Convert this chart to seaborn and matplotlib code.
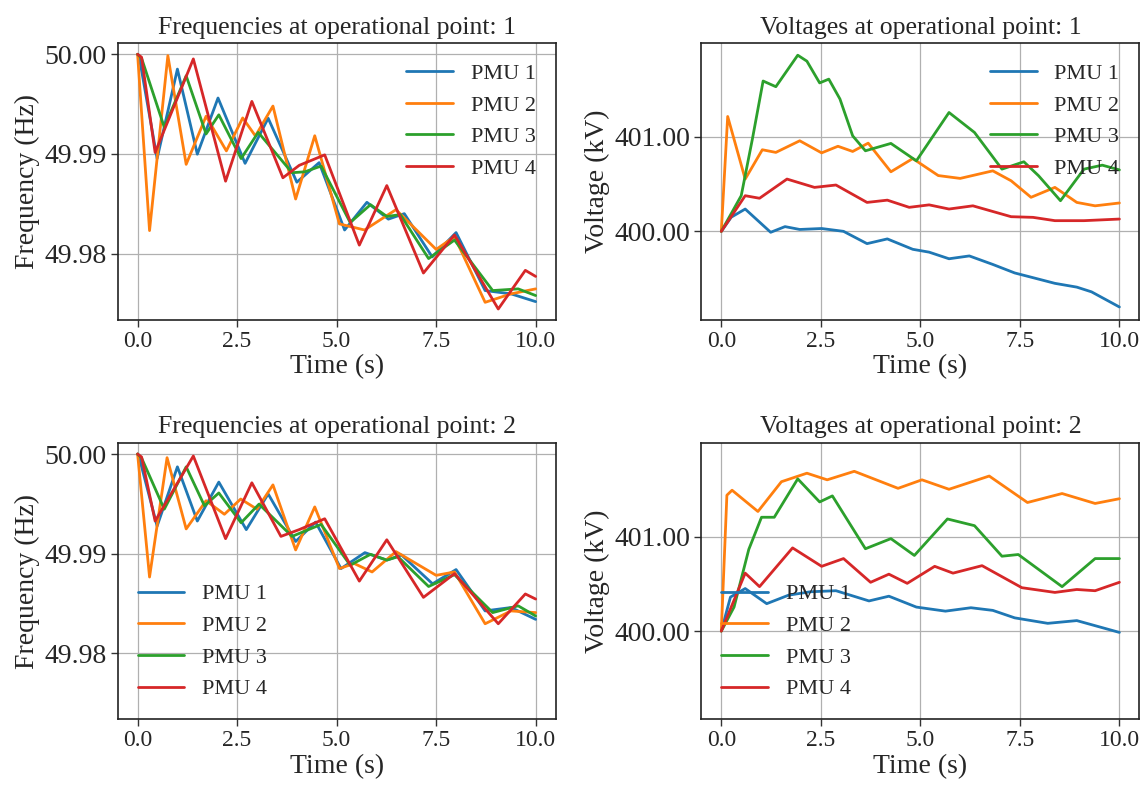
import matplotlib
matplotlib.use("Agg")
import matplotlib.pyplot as plt
import seaborn as sns
import pandas as pd
from matplotlib.ticker import MultipleLocator, FormatStrFormatter

# ---------------- data (time s, value) ----------------
LABELS = ["PMU 1", "PMU 2", "PMU 3", "PMU 4"]
COLORS = ["#1f77b4", "#ff7f0e", "#2ca02c", "#d62728"]

# Frequencies, operational point 1 (Hz)
F1_PMU1 = [(0, 50.0), (0.05, 49.9995), (0.49, 49.98953), (1.0, 49.99851), (1.5, 49.98997), (2.02, 49.99561),
           (2.7, 49.98905), (3.28, 49.99358), (4.0, 49.98716), (4.56, 49.98912), (5.2, 49.98236),
           (5.76, 49.98514), (6.3, 49.98345), (6.7, 49.9840), (7.4, 49.97966), (8.0, 49.9821),
           (8.73, 49.97628), (9.38, 49.97595), (10.0, 49.97517)]
F1_PMU2 = [(0, 50.0), (0.3, 49.9823), (0.76, 49.99986), (1.22, 49.98895), (1.72, 49.99378), (2.23, 49.9903),
           (2.64, 49.99361), (2.96, 49.9918), (3.4, 49.9948), (3.97, 49.98547), (4.45, 49.99182),
           (5.07, 49.98297), (5.7, 49.98236), (6.49, 49.9844), (7.5, 49.98041), (7.96, 49.98169),
           (8.73, 49.9751), (9.38, 49.97595), (10.0, 49.97645)]
F1_PMU3 = [(0, 50.0), (0.1, 49.9996), (0.67, 49.99267), (1.22, 49.99784), (1.72, 49.9920), (2.04, 49.99392),
           (2.6, 49.98953), (3.03, 49.99216), (3.88, 49.98811), (4.2, 49.98820), (4.61, 49.98878),
           (5.34, 49.98311), (5.85, 49.98490), (6.26, 49.98372), (6.6, 49.9839), (7.31, 49.97949),
           (7.96, 49.98135), (8.92, 49.97628), (9.56, 49.97645), (10.0, 49.97578)]
F1_PMU4 = [(0, 50.0), (0.1, 49.9997), (0.44, 49.99014), (1.4, 49.99953), (2.21, 49.98726), (2.87, 49.99527),
           (3.65, 49.9876), (4.06, 49.98885), (4.7, 49.9899), (5.57, 49.98084), (6.26, 49.98682),
           (7.18, 49.97804), (7.96, 49.98186), (9.06, 49.97443), (9.74, 49.97831), (10.0, 49.9777)]

# Voltages, operational point 1 (kV)
V1_PMU1 = [(0, 400.0), (0.25, 400.15), (0.6, 400.236), (1.24, 399.99), (1.6, 400.05), (1.97, 400.02),
           (2.52, 400.03), (3.07, 400.0), (3.66, 399.87), (4.17, 399.92), (4.81, 399.81), (5.22, 399.78),
           (5.72, 399.71), (6.23, 399.74), (6.82, 399.65), (7.37, 399.56), (7.83, 399.51), (8.38, 399.45),
           (8.93, 399.41), (9.3, 399.36), (10.0, 399.20)]
V1_PMU2 = [(0, 400.0), (0.16, 401.215), (0.6, 400.553), (1.03, 400.863), (1.37, 400.835), (1.97, 400.958),
           (2.52, 400.83), (2.93, 400.90), (3.3, 400.845), (3.69, 400.933), (4.26, 400.63), (4.81, 400.77),
           (5.45, 400.59), (6.0, 400.56), (6.82, 400.64), (7.28, 400.535), (7.78, 400.36), (8.38, 400.465),
           (8.93, 400.306), (9.39, 400.27), (10.0, 400.30)]
V1_PMU3 = [(0, 400.0), (0.5, 400.377), (0.78, 400.975), (1.05, 401.59), (1.37, 401.53), (1.92, 401.863),
           (2.15, 401.80), (2.47, 401.57), (2.7, 401.61), (2.98, 401.40), (3.3, 401.01), (3.62, 400.852),
           (4.26, 400.93), (4.9, 400.746), (5.72, 401.257), (6.36, 401.046), (7.05, 400.658), (7.6, 400.736),
           (7.97, 400.588), (8.52, 400.324), (9.11, 400.658), (9.57, 400.70), (10.0, 400.65)]
V1_PMU4 = [(0, 400.0), (0.6, 400.377), (0.96, 400.35), (1.65, 400.553), (2.34, 400.465), (2.88, 400.49),
           (3.66, 400.306), (4.17, 400.33), (4.72, 400.254), (5.22, 400.28), (5.72, 400.236), (6.32, 400.27),
           (7.28, 400.155), (7.83, 400.148), (8.38, 400.113), (9.11, 400.113), (10.0, 400.13)]

# Frequencies, operational point 2 (Hz)
F2_PMU1 = [(0, 50.0), (0.05, 49.9995), (0.49, 49.99276), (1.0, 49.99871), (1.5, 49.99327), (2.04, 49.99718),
           (2.73, 49.99241), (3.28, 49.99599), (3.97, 49.99122), (4.47, 49.99316), (5.11, 49.98850),
           (5.71, 49.99010), (6.26, 49.98935), (6.63, 49.98986), (7.41, 49.98697), (8.0, 49.98840),
           (8.73, 49.98425), (9.38, 49.98459), (10.0, 49.98340)]
F2_PMU2 = [(0, 50.0), (0.3, 49.98765), (0.74, 49.99963), (1.22, 49.99248), (1.72, 49.99531), (2.18, 49.99395),
           (2.59, 49.99548), (3.0, 49.99446), (3.4, 49.99690), (3.97, 49.99037), (4.45, 49.99469),
           (5.07, 49.98850), (5.44, 49.98901), (5.89, 49.98816), (6.49, 49.99020), (7.5, 49.98782),
           (7.96, 49.98816), (8.73, 49.98296), (9.38, 49.98425), (10.0, 49.98408)]
F2_PMU3 = [(0, 50.0), (0.1, 49.9996), (0.67, 49.99446), (1.22, 49.99871), (1.68, 49.99480), (2.04, 49.99609),
           (2.6, 49.99310), (3.05, 49.99497), (3.88, 49.99173), (4.61, 49.99293), (5.34, 49.98884),
           (5.85, 49.98993), (6.26, 49.98935), (6.54, 49.98969), (7.31, 49.98670), (7.96, 49.98789),
           (8.92, 49.98408), (9.56, 49.98476), (10.0, 49.98374)]
F2_PMU4 = [(0, 50.0), (0.1, 49.9997), (0.44, 49.99327), (1.4, 49.99980), (2.21, 49.99150), (2.87, 49.99711),
           (3.6, 49.99173), (4.06, 49.99241), (4.7, 49.99350), (5.57, 49.98724), (6.26, 49.99139),
           (7.18, 49.98561), (7.96, 49.98799), (9.06, 49.98296), (9.74, 49.98595), (10.0, 49.98544)]

# Voltages, operational point 2 (kV)
V2_PMU1 = [(0, 400.0), (0.23, 400.36), (0.6, 400.45), (1.14, 400.29), (1.69, 400.38), (2.24, 400.416),
           (2.88, 400.427), (3.71, 400.319), (4.21, 400.369), (4.9, 400.254), (5.63, 400.211),
           (6.27, 400.247), (6.82, 400.219), (7.37, 400.14), (8.2, 400.082), (8.93, 400.111), (10.0, 399.986)]
V2_PMU2 = [(0, 400.0), (0.14, 401.437), (0.27, 401.49), (0.92, 401.265), (1.51, 401.58), (2.15, 401.67),
           (2.66, 401.60), (3.34, 401.69), (4.44, 401.51), (5.04, 401.60), (5.72, 401.50), (6.73, 401.64),
           (7.69, 401.36), (8.56, 401.455), (9.39, 401.35), (10.0, 401.40)]
V2_PMU3 = [(0, 400.0), (0.32, 400.254), (0.69, 400.864), (1.01, 401.204), (1.33, 401.204), (1.92, 401.61),
           (2.47, 401.366), (2.79, 401.43), (3.62, 400.871), (4.26, 400.978), (4.85, 400.80), (5.68, 401.186),
           (6.36, 401.115), (7.05, 400.792), (7.46, 400.81), (8.56, 400.47), (9.39, 400.767), (10.0, 400.767)]
V2_PMU4 = [(0, 400.0), (0.6, 400.613), (0.96, 400.47), (1.79, 400.88), (2.52, 400.685), (3.07, 400.767),
           (3.75, 400.516), (4.21, 400.602), (4.67, 400.505), (5.36, 400.685), (5.82, 400.613), (6.55, 400.692),
           (7.55, 400.459), (8.38, 400.409), (8.93, 400.44), (9.39, 400.427), (10.0, 400.516)]

TITLES = ["Frequencies at operational point: 1", "Voltages at operational point: 1",
          "Frequencies at operational point: 2", "Voltages at operational point: 2"]
YLABELS = ["Frequency (Hz)", "Voltage (kV)", "Frequency (Hz)", "Voltage (kV)"]
XLABEL = "Time (s)"
XTICKS = [0.0, 2.5, 5.0, 7.5, 10.0]

PANELS = [[F1_PMU1, F1_PMU2, F1_PMU3, F1_PMU4],
          [V1_PMU1, V1_PMU2, V1_PMU3, V1_PMU4],
          [F2_PMU1, F2_PMU2, F2_PMU3, F2_PMU4],
          [V2_PMU1, V2_PMU2, V2_PMU3, V2_PMU4]]
LEGEND_LOCS = ["upper right", "upper right", "lower left", "lower left"]

# ---------------- style ----------------
sns.set_theme(style="ticks")
plt.rcParams["font.family"] = ["Liberation Serif", "DejaVu Serif"]

fig, axes = plt.subplots(2, 2, figsize=(11.46, 7.85), dpi=100, sharey="col")
fig.subplots_adjust(left=117.7 / 1146, right=1139.3 / 1146, top=1 - 43.3 / 785, bottom=1 - 719.3 / 785,
                    wspace=0.333, hspace=0.447)

for i, ax in enumerate(axes.flat):
    for series, lab, col in zip(PANELS[i], LABELS, COLORS):
        df = pd.DataFrame(series, columns=["t", "v"])
        sns.lineplot(data=df, x="t", y="v", ax=ax, color=col, label=lab, lw=2.0,
                     estimator=None, sort=False)
    ax.set_title(TITLES[i], fontsize=18.5, pad=7)
    ax.set_xlabel(XLABEL, fontsize=20, labelpad=2)
    ax.set_ylabel(YLABELS[i], fontsize=20, labelpad=3)
    ax.set_xticks(XTICKS)
    ax.xaxis.set_major_formatter(FormatStrFormatter("%.1f"))
    if i % 2 == 0:
        ax.yaxis.set_major_locator(MultipleLocator(0.01))
    else:
        ax.yaxis.set_major_locator(MultipleLocator(1.0))
    ax.yaxis.set_major_formatter(FormatStrFormatter("%.2f"))
    ax.tick_params(axis="x", labelsize=17)
    ax.tick_params(axis="y", labelsize=20)
    ax.tick_params(length=5, width=1, color="#333333", direction="out", pad=3)
    ax.grid(True, color="#b0b0b0", lw=0.9)
    for s in ax.spines.values():
        s.set_color("#222222")
        s.set_linewidth(1.2)
    ax.legend(loc=LEGEND_LOCS[i], frameon=False, fontsize=16, handlelength=2.1)

axes[0, 0].set_ylim(49.97337, 50.0011)
axes[0, 1].set_ylim(399.067, 401.989)

fig.savefig("out.png", dpi=100)
